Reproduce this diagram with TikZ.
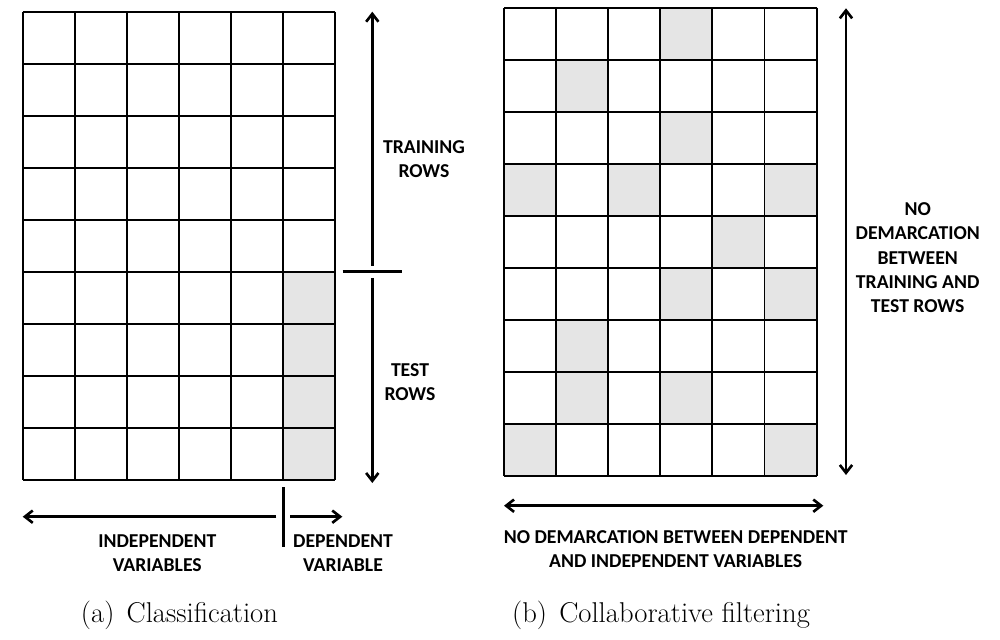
\documentclass[tikz,border=0pt]{standalone}
\usepackage{fontspec}
\newfontfamily\lblfont{Carlito}
\usetikzlibrary{arrows.meta}

\begin{document}
\begin{tikzpicture}[x=0.02cm,y=-0.02cm,
  lbl/.style={font=\lblfont\bfseries\fontsize{11.2}{13.8}\selectfont,align=center,inner sep=0pt},
  capt/.style={font=\fontsize{16.3}{19}\selectfont,inner sep=0pt},
  gridline/.style={line width=1.1pt},
  bar/.style={line width=1.5pt},
  arr/.style={line width=1.5pt,-{Straight Barb[length=4.5pt,width=7pt]}},
  darr/.style={line width=1.5pt,{Straight Barb[length=4.5pt,width=7pt]}-{Straight Barb[length=4.5pt,width=7pt]}},
  shaded/.style={fill=black!10}]
      \useasboundingbox (0,0) rectangle (1000,639);

      \def\cw{52.1}
      \def\ch{52}

      \def\lx{22.7}
      \def\ly{11.7}

      \def\rx{504}
      \def\ry{7.7}

      % (a) grid
      \foreach \r in {5,...,8}
        \fill[shaded] (\lx+5*\cw,\ly+\r*\ch) rectangle ++(\cw,\ch);
      \foreach \i in {0,...,6}
        \draw[gridline] (\lx+\i*\cw,\ly) -- (\lx+\i*\cw,\ly+9*\ch);
      \foreach \j in {0,...,9}
        \draw[gridline] (\lx,\ly+\j*\ch) -- (\lx+6*\cw,\ly+\j*\ch);

      % (b) grid
      \foreach \c/\r in {4/1,2/2,4/3,1/4,3/4,6/4,5/5,4/6,6/6,2/7,2/8,4/8,1/9,6/9}
        \fill[shaded] (\rx+\c*\cw-\cw,\ry+\r*\ch-\ch) rectangle ++(\cw,\ch);
      \foreach \i in {0,...,6}
        \draw[gridline] (\rx+\i*\cw,\ry) -- (\rx+\i*\cw,\ry+9*\ch);
      \foreach \j in {0,...,9}
        \draw[gridline] (\rx,\ry+\j*\ch) -- (\rx+6*\cw,\ry+\j*\ch);

      \coordinate (trtop) at (372.3,11.7);
      \coordinate (rowsplit) at (372.3,271.7);
      \coordinate (tsbot) at (372.3,483);

      \draw[arr,shorten <=3.5pt] (rowsplit) -- (trtop);
      \draw[arr,shorten <=3.5pt] (rowsplit) -- (tsbot);
      \draw[bar] (rowsplit) ++(-29.6,0) -- ++(59,0);

      \coordinate (independ) at (22.7,516.7);
      \coordinate (colsplit) at (283.3,516.7);
      \coordinate (depend) at (342.3,516.7);

      \draw[arr,shorten <=4pt] (colsplit) -- (independ);
      \draw[arr,shorten <=4pt] (colsplit) -- (depend);
      \draw[bar] (colsplit) ++(0,-29.4) -- ++(0,59.4);

      \coordinate (cftop) at (846,8.3);
      \coordinate (cfbot) at (846,475);
      \draw[darr] (cftop) -- (cfbot);

      \coordinate (cfleft) at (504,505.7);
      \coordinate (cfright) at (823.3,505.7);
      \draw[darr] (cfleft) -- (cfright);

      \path node (trainlbl) at (424,158.8) [lbl] {TRAINING\\ROWS};
      \path node (testlbl) at (410,382) [lbl] {TEST\\ROWS};
      \path node (indeplbl) at (157.3,553.3) [lbl] {INDEPENDENT\\VARIABLES};
      \path node (deplbl) at (343,553.3) [lbl] {DEPENDENT\\VARIABLE};
      \path node (cfrowlbl) at (917.7,257.8) [lbl]
            {NO\\DEMARCATION\\BETWEEN\\TRAINING AND\\TEST ROWS};
      \path node (cfcollbl) at (675.7,549) [lbl]
            {NO DEMARCATION BETWEEN DEPENDENT\\AND INDEPENDENT VARIABLES};

      \path node (capa) at (179.5,615) [capt] {(a)\hspace{0.43em}Classification};
      \path node (capb) at (661,615) [capt] {(b)\hspace{0.43em}Collaborative filtering};
    \end{tikzpicture}
\end{document}
